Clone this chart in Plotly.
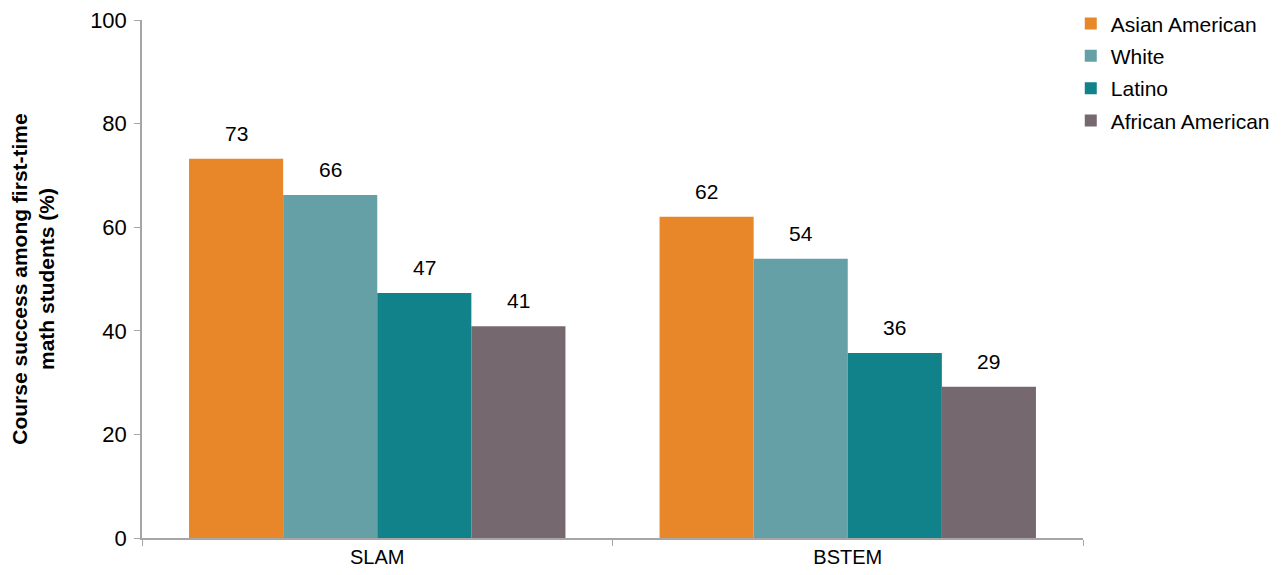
import plotly.graph_objects as go

courses = ["SLAM", "BSTEM"]
groups = ["Asian American", "White", "Latino", "African American"]
colors = ["#E8862A", "#64A0A6", "#11818A", "#76686F"]

# course success (%) for each group, SLAM then BSTEM
asian_american = [73.2, 62.0]
white = [66.2, 53.9]
latino = [47.3, 35.7]
african_american = [40.9, 29.2]
values = [asian_american, white, latino, african_american]

bargap = 0.2
font = "Liberation Sans, Arial, sans-serif"

fig = go.Figure()

for name, vals, color in zip(groups, values, colors):
    fig.add_trace(go.Bar(
        x=courses,
        y=vals,
        name=name,
        legendgroup=name,
        marker=dict(color=color, line=dict(width=0)),
        hoverinfo="skip",
    ))

# value labels sit a bit above each bar
bar_w = (1 - bargap) / len(groups)
for gi, vals in enumerate(values):
    for ci, v in enumerate(vals):
        fig.add_annotation(
            x=ci - (1 - bargap) / 2 + bar_w * (gi + 0.5),
            y=v,
            xref="x", yref="y",
            text=f"{round(v)}",
            showarrow=False,
            yanchor="bottom",
            yshift=12,
            font=dict(size=21, color="black", family=font),
        )

# page body has an 8px margin, so margins are trimmed to keep the plot in place
fig.update_layout(
    barmode="group",
    bargap=bargap,
    bargroupgap=0,
    plot_bgcolor="white",
    paper_bgcolor="white",
    margin=dict(l=134, r=191, t=12, b=29, autoexpand=False),
    font=dict(family=font, color="black", size=20),
    legend=dict(
        x=0.987, xanchor="left",
        y=1.032, yanchor="top",
        font=dict(size=21, family=font),
        tracegroupgap=2,
        bgcolor="rgba(0,0,0,0)",
    ),
    xaxis=dict(
        type="category",
        automargin=False,
        tickson="boundaries",
        ticks="outside",
        ticklen=6,
        tickcolor="#A6A6A6",
        showline=True,
        linecolor="#A6A6A6",
        linewidth=1.5,
        showgrid=False,
        tickfont=dict(size=20, family=font),
    ),
    yaxis=dict(
        range=[0, 100],
        dtick=20,
        automargin=False,
        ticks="outside",
        ticklen=6,
        ticklabelstandoff=3,
        ticklabeloverflow="allow",
        tickcolor="#A6A6A6",
        showline=True,
        linecolor="#A6A6A6",
        linewidth=1.5,
        showgrid=False,
        zeroline=False,
        tickfont=dict(size=22, family=font),
        title=dict(
            text="<b>Course success among first-time<br>math students (%)</b>",
            font=dict(size=21, family=font),
            standoff=30,
        ),
    ),
)

fig.write_html("out.html")
